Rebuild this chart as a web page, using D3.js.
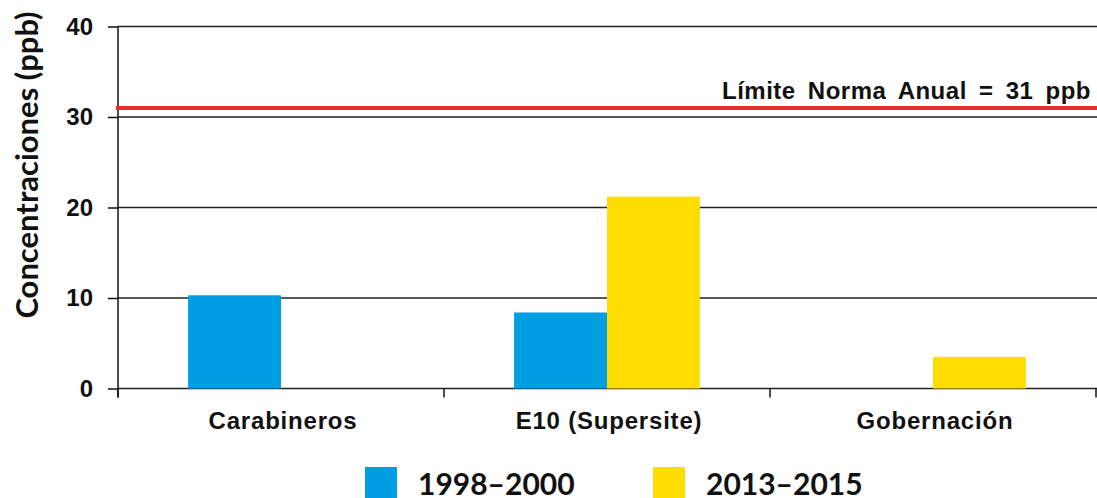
<!DOCTYPE html>
<html>
<head>
<meta charset="utf-8">
<script src="https://cdn.jsdelivr.net/npm/d3@7"></script>
<style>
  body { margin: 0; background: #fff; }
  svg { display: block; }
</style>
</head>
<body>
<div id="chart"></div>
<script>
// chart data
let stations = ["Carabineros", "E10 (Supersite)", "Gobernación"];
let periods = ["1998–2000", "2013–2015"];
let values_1998 = [10.3, 8.4, null];
let values_2013 = [null, 21.2, 3.5];
let y_ticks = [0, 10, 20, 30, 40];
let norm_value = 31;
let norm_label = "Límite Norma Anual = 31 ppb";

let width = 1097, height = 498;
let margin = {top: 26, right: 1, bottom: 110, left: 118};
let colors = {"1998–2000": "#009fe3", "2013–2015": "#ffdd00"};

let svg = d3.select("#chart").append("svg")
  .attr("width", width)
  .attr("height", height);

let x0 = d3.scaleBand()
  .domain(stations)
  .range([margin.left, width - margin.right])
  .paddingInner(0.43)
  .paddingOuter(0.215);

let x1 = d3.scaleBand()
  .domain(periods)
  .range([0, x0.bandwidth()]);

let y = d3.scaleLinear()
  .domain([0, 40])
  .range([height - margin.bottom + 0.5, margin.top + 0.5]);

// grid lines
svg.append("g")
  .selectAll("line")
  .data(y_ticks)
  .enter().append("line")
  .attr("x1", margin.left)
  .attr("x2", width)
  .attr("y1", d => y(d))
  .attr("y2", d => y(d))
  .style("stroke", "#222")
  .style("stroke-width", 1.5);

// bars
let rows = stations.map((s, i) => ({station: s, "1998–2000": values_1998[i], "2013–2015": values_2013[i]}));

svg.append("g")
  .selectAll("g")
  .data(rows)
  .enter().append("g")
  .attr("transform", d => "translate(" + x0(d.station) + ",0)")
  .selectAll("rect")
  .data(d => periods.filter(p => d[p] != null).map(p => ({key: p, value: d[p]})))
  .enter().append("rect")
  .attr("x", d => x1(d.key))
  .attr("y", d => y(d.value))
  .attr("width", x1.bandwidth())
  .attr("height", d => y(0) - y(d.value))
  .style("fill", d => colors[d.key]);

// y axis
let yAxis = svg.append("g")
  .attr("transform", "translate(" + margin.left + ",0)")
  .call(d3.axisLeft(y).tickValues(y_ticks).tickSize(10).tickPadding(15));
yAxis.select(".domain").remove();
yAxis.selectAll(".tick line").style("stroke", "#111").style("stroke-width", 1.5);
yAxis.selectAll("text")
  .style("font-family", "'Liberation Sans', Arial, sans-serif")
  .style("font-weight", "bold")
  .style("font-size", "24px")
  .style("fill", "#111");

svg.append("line")
  .attr("x1", margin.left).attr("x2", margin.left)
  .attr("y1", y(40)).attr("y2", y(0) + 9)
  .style("stroke", "#111").style("stroke-width", 1.5);

// x axis ticks (band boundaries)
let step = x0.step();
let boundaries = d3.range(stations.length + 1).map(i => margin.left + i * step);
svg.append("g")
  .selectAll("line")
  .data(boundaries)
  .enter().append("line")
  .attr("x1", d => d).attr("x2", d => d)
  .attr("y1", y(0)).attr("y2", y(0) + 9)
  .style("stroke", "#111").style("stroke-width", 1.5);

svg.append("g")
  .selectAll("text")
  .data(stations)
  .enter().append("text")
  .attr("x", d => x0(d) + x0.bandwidth() / 2 + 2)
  .attr("y", 429)
  .attr("text-anchor", "middle")
  .style("font-family", "'Liberation Sans', Arial, sans-serif")
  .style("font-weight", "bold")
  .style("font-size", "24px")
  .style("letter-spacing", "0.8px")
  .style("fill", "#111")
  .text(d => d);

// norm line
svg.append("line")
  .attr("x1", margin.left - 2)
  .attr("x2", width)
  .attr("y1", y(norm_value))
  .attr("y2", y(norm_value))
  .style("stroke", "#e52d2d")
  .style("stroke-width", 4);

svg.append("text")
  .attr("x", 1091)
  .attr("y", 99)
  .attr("text-anchor", "end")
  .style("font-family", "'Liberation Sans', Arial, sans-serif")
  .style("font-weight", "bold")
  .style("font-size", "24px")
  .style("letter-spacing", "0.5px")
  .style("word-spacing", "5px")
  .style("fill", "#111")
  .text(norm_label);

// y axis title
svg.append("text")
  .attr("transform", "translate(38,165) rotate(-90)")
  .attr("text-anchor", "middle")
  .style("font-family", "Lato, 'Open Sans', sans-serif")
  .style("font-weight", "bold")
  .style("font-size", "31px")
  .style("fill", "#111")
  .text("Concentraciones (ppb)");

// legend
let legend_x = [365, 653];
let legend = svg.append("g")
  .selectAll("g")
  .data(periods)
  .enter().append("g")
  .attr("transform", (d, i) => "translate(" + legend_x[i] + ",467)");

legend.append("rect")
  .attr("width", 32)
  .attr("height", 31)
  .style("fill", d => colors[d]);

legend.append("text")
  .attr("x", 53)
  .attr("y", 28)
  .style("font-family", "Lato, 'Open Sans', sans-serif")
  .style("font-weight", "bold")
  .style("font-size", "30px")
  .style("fill", "#111")
  .text(d => d);
</script>
</body>
</html>
